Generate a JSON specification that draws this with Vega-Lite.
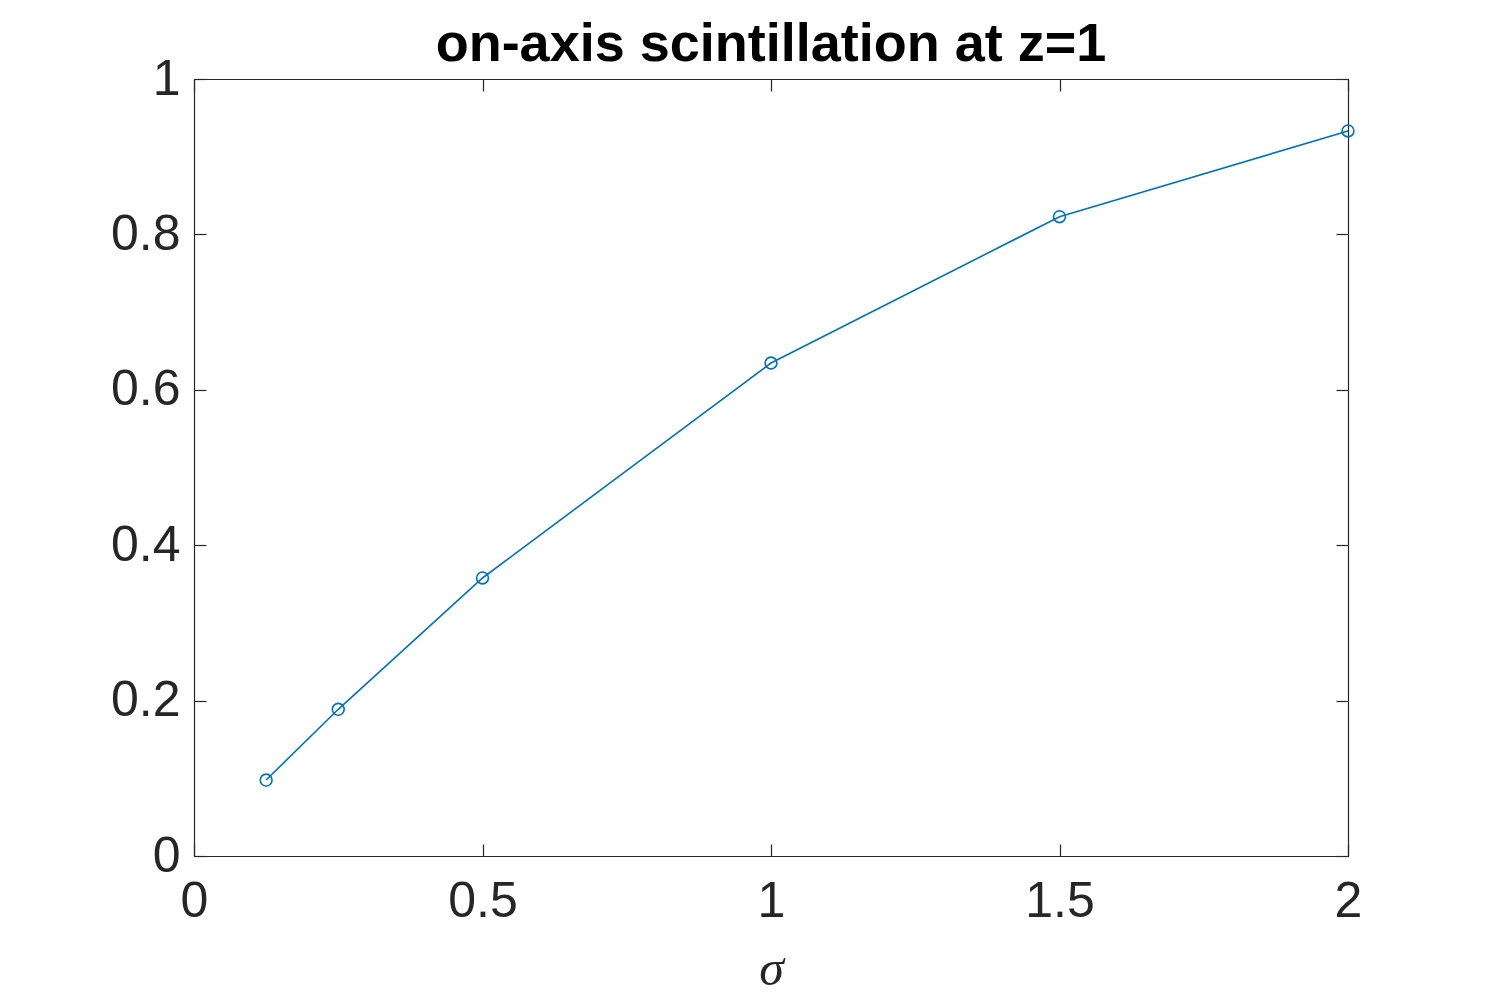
{
  "$schema": "https://vega.github.io/schema/vega-lite/v6.json",
  "width": 1154,
  "height": 777,
  "autosize": {"type": "none"},
  "padding": {"left": 194, "top": 79, "right": 142, "bottom": 140},
  "background": "white",
  "title": {
    "text": "on-axis scintillation at z=1",
    "font": "Liberation Sans",
    "fontSize": 54,
    "fontWeight": "bold",
    "color": "#000000",
    "anchor": "middle",
    "offset": -18
  },
  "data": {
    "values": [
      {"sigma": 0.125, "scint": 0.0978},
      {"sigma": 0.25, "scint": 0.1888},
      {"sigma": 0.5, "scint": 0.3578},
      {"sigma": 1.0, "scint": 0.6345},
      {"sigma": 1.5, "scint": 0.8228},
      {"sigma": 2.0, "scint": 0.9331}
    ]
  },
  "layer": [
    {
      "mark": {"type": "line", "color": "#0072BD", "strokeWidth": 1.6},
      "encoding": {
        "x": {
          "field": "sigma", "type": "quantitative",
          "scale": {"domain": [0, 2], "nice": false, "zero": false},
          "axis": {"orient": "bottom", "values": [0, 0.5, 1, 1.5, 2], "format": "~g", "title": "σ",
                   "labelPadding": 32, "labelFlush": false,
                   "titleFont": "Liberation Serif", "titleFontStyle": "italic", "titleFontWeight": "normal", "titleFontSize": 50, "titlePadding": 18}
        },
        "y": {
          "field": "scint", "type": "quantitative",
          "scale": {"domain": [0, 1], "nice": false},
          "axis": {"orient": "left", "values": [0, 0.2, 0.4, 0.6, 0.8, 1], "format": "~g", "title": null, "labelFlush": false}
        }
      }
    },
    {
      "mark": {"type": "point", "shape": "circle", "filled": false, "color": "#0072BD", "size": 140, "strokeWidth": 1.6, "opacity": 1},
      "encoding": {
        "x": {
          "field": "sigma", "type": "quantitative",
          "scale": {"domain": [0, 2], "nice": false, "zero": false},
          "axis": {"orient": "top", "values": [0, 0.5, 1, 1.5, 2], "labels": false, "title": null}
        },
        "y": {
          "field": "scint", "type": "quantitative",
          "scale": {"domain": [0, 1], "nice": false},
          "axis": {"orient": "right", "values": [0, 0.2, 0.4, 0.6, 0.8, 1], "labels": false, "title": null}
        }
      }
    }
  ],
  "resolve": {"axis": {"x": "independent", "y": "independent"}},
  "config": {
    "view": {"stroke": null},
    "axis": {
      "grid": false,
      "domainColor": "#262626",
      "domainWidth": 1.2,
      "tickColor": "#262626",
      "tickWidth": 1.2,
      "tickSize": -12,
      "labelFont": "Liberation Sans",
      "labelFontSize": 50,
      "labelColor": "#262626",
      "labelPadding": 26,
      "labelOverlap": false,
      "titleColor": "#262626"
    }
  }
}
